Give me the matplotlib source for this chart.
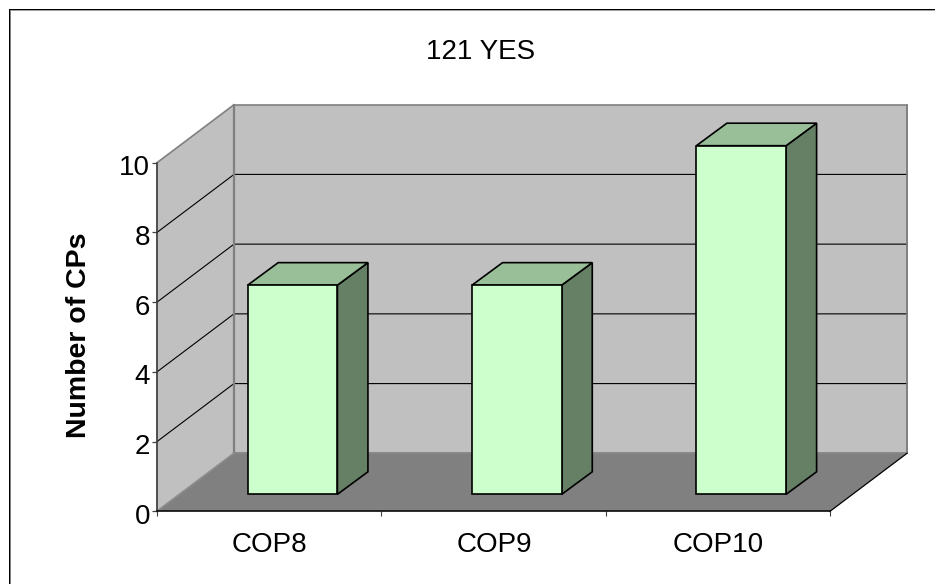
import matplotlib
matplotlib.use('Agg')
import matplotlib.pyplot as plt
from matplotlib.patches import Polygon, Rectangle
from matplotlib.transforms import ScaledTranslation

plt.rcParams['font.family'] = ['Liberation Sans', 'DejaVu Sans']

categories = ['COP8', 'COP9', 'COP10']
counts = [6, 6, 10]
yticks = [0, 2, 4, 6, 8, 10]

W, H = 935, 584
left, right, bottom, top = 157, 830, 511.3, 162.7

fig = plt.figure(figsize=(W / 100, H / 100), dpi=100)

# frame only on the top and left edges, black with a grey inner line
for x, y, w, h, c in [(9, 9, W - 9, 1.2, 'black'), (10, 10.2, W - 10, 1, '#a0a0a0'),
                      (9, 9, 1.2, H - 9, 'black'), (10.2, 10, 1, H - 10, '#808080')]:
    fig.patches.append(Rectangle((x / W, 1 - (y + h) / H), w / W, h / H, transform=fig.transFigure,
                                 fc=c, ec='none', zorder=-1))

ax = fig.add_axes([left / W, 1 - bottom / H, (right - left) / W, (bottom - top) / H])
ax.set_xlim(0, 3)
ax.set_ylim(0, 10)
ax.patch.set_visible(False)

# depth of the box and of the bars, in axis units
px_x = 3 / (right - left)
px_y = 10 / (bottom - top)
dx = 77 * px_x
dy = 58 * px_y
bar_w = 0.4
bar_x = 90.7 * px_x
bar_y = 17 * px_y
bar_dx = 30.5 * px_x
bar_dy = 22.5 * px_y


def poly(pts, fc, ec, lw, z):
    ax.add_patch(Polygon(pts, closed=True, fc=fc, ec=ec, lw=lw, zorder=z, clip_on=False, joinstyle='miter'))


# side wall, back wall, floor
poly([(0, 0), (dx, dy), (dx, 10 + dy), (0, 10)], '#c0c0c0', '#808080', 1.2, 1)
poly([(dx, dy), (3 + dx, dy), (3 + dx, 10 + dy), (dx, 10 + dy)], '#c0c0c0', '#808080', 1.2, 1)

for t in yticks[1:-1]:
    ax.plot([0, dx, 3 + dx], [t, t + dy, t + dy], color='black', lw=0.8, zorder=2, clip_on=False)
ax.plot([dx, dx], [0 + dy, 10 + dy], color='#808080', lw=1.6, zorder=2, clip_on=False)
ax.plot([3 + dx, 3 + dx], [0 + dy, 10 + dy], color='#808080', lw=1.2, zorder=2, clip_on=False)

poly([(0, 0), (3, 0), (3 + dx, dy), (dx, dy)], '#808080', 'none', 0, 3)
ax.plot([3, 3 + dx], [0, dy], color='black', lw=0.9, zorder=4, clip_on=False)
ax.plot([0, dx], [0, dy], color='#909090', lw=0.9, zorder=4, clip_on=False)

for i, v in enumerate(counts):
    x0 = i + bar_x
    x1 = x0 + bar_w
    y0 = bar_y
    y1 = y0 + v
    poly([(x1, y0), (x1 + bar_dx, y0 + bar_dy), (x1 + bar_dx, y1 + bar_dy), (x1, y1)], '#668066', 'black', 1.2, 5)
    poly([(x0, y1), (x1, y1), (x1 + bar_dx, y1 + bar_dy), (x0 + bar_dx, y1 + bar_dy)], '#99bf99', 'black', 1.2, 5)
    poly([(x0, y0), (x1, y0), (x1, y1), (x0, y1)], '#ccffcc', 'black', 1.2, 6)

for s in ['top', 'right']:
    ax.spines[s].set_visible(False)
ax.spines['left'].set_color('#404040')
ax.spines['left'].set_linewidth(1.1)
ax.spines['bottom'].set_color('black')
ax.spines['bottom'].set_linewidth(1.1)
ax.spines['left'].set_zorder(7)
ax.spines['bottom'].set_zorder(7)

ax.set_yticks(yticks)
ax.set_xticks([0, 1, 2, 3])
ax.set_xticklabels([])
ax.tick_params(axis='y', labelsize=20, length=3.8, width=0.9, pad=1, color='#404040', labelcolor='black')
ax.tick_params(axis='x', length=3.8, width=0.8, color='#404040')
shift = ScaledTranslation(0, -2.5 / 100, fig.dpi_scale_trans)
for lab in ax.get_yticklabels():
    lab.set_transform(lab.get_transform() + shift)

for i, c in enumerate(categories):
    ax.annotate(c, xy=(i + 0.5, 0), xycoords='data', xytext=(0.5, -15), textcoords='offset points',
                ha='center', va='top', fontsize=20, annotation_clip=False)

fig.text(481 / W, 1 - 59 / H, '121 YES', ha='center', va='baseline', fontsize=20)
fig.text(78.5 / W, 1 - 335.7 / H, 'Number of CPs', ha='center', va='center', rotation=90, fontsize=20.5,
         fontweight='bold')

fig.savefig('out.png', dpi=100)
